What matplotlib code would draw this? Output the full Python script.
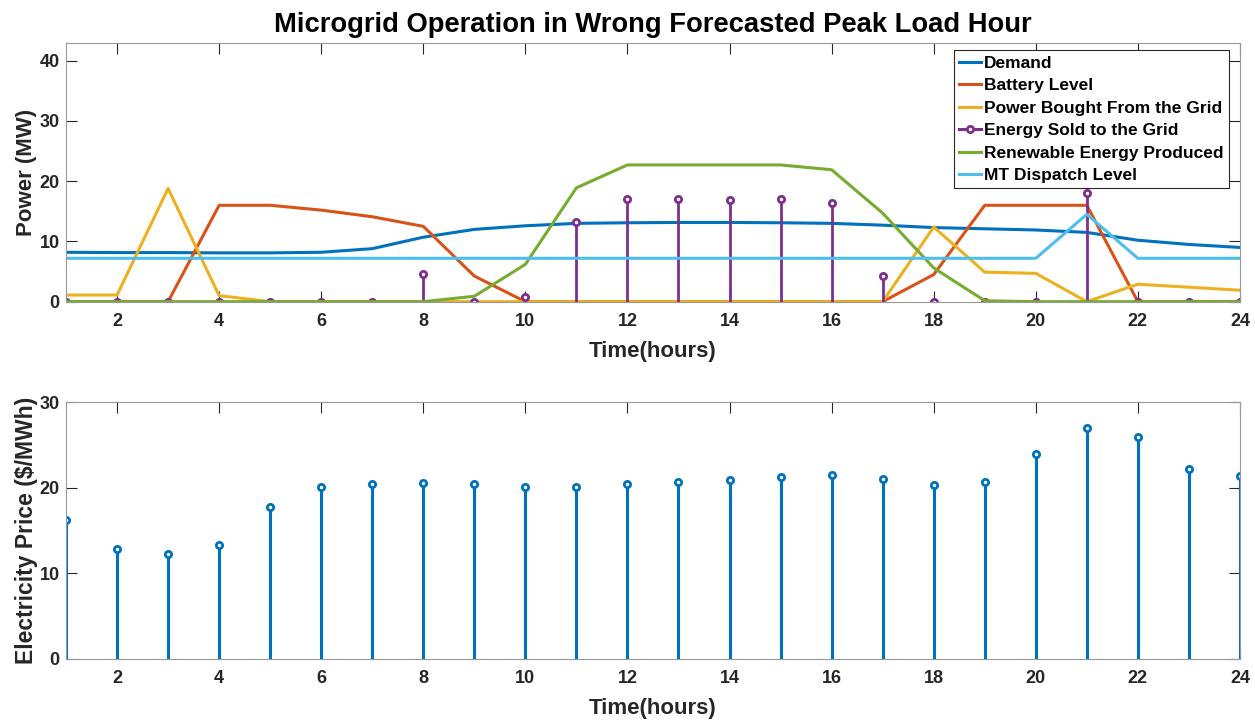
import matplotlib
matplotlib.use("Agg")
from matplotlib import pyplot as plt
from matplotlib.lines import Line2D
from matplotlib.legend_handler import HandlerLine2D
import numpy as np

plt.rcParams['font.family'] = ['Liberation Sans', 'DejaVu Sans']
plt.rcParams['font.weight'] = 'bold'

hours = list(range(1, 25))

demand = [8.2, 8.15, 8.15, 8.1, 8.1, 8.2, 8.8, 10.7, 12.0, 12.6, 13.0, 13.1,
          13.15, 13.15, 13.1, 13.0, 12.7, 12.3, 12.1, 11.9, 11.5, 10.2, 9.5, 9.0]
battery = [0, 0, 0, 16.0, 16.0, 15.2, 14.1, 12.5, 4.25, 0, 0, 0,
           0, 0, 0, 0, 0, 4.5, 16.0, 16.0, 16.0, 0, 0, 0]
bought = [1.1, 1.1, 18.8, 1.0, 0, 0, 0, 0, 0, 0, 0, 0,
          0, 0, 0, 0, 0, 12.4, 4.9, 4.7, 0, 2.9, 2.4, 1.9]
sold = [0, 0, 0, 0, 0, 0, 0, 4.6, 0, 0.8, 13.2, 17.0,
        17.0, 16.8, 17.0, 16.3, 4.25, 0, 0, 0, 18.1, 0, 0, 0]
renewable = [0, 0, 0, 0, 0, 0, 0, 0, 0.9, 6.2, 18.9, 22.7,
             22.7, 22.7, 22.7, 21.9, 14.7, 5.6, 0.15, 0, 0, 0, 0, 0]
mt_dispatch = [7.2] * 20 + [14.5, 7.2, 7.2, 7.2]
price = [16.2, 12.9, 12.3, 13.3, 17.8, 20.1, 20.4, 20.6, 20.5, 20.1, 20.1, 20.5,
         20.7, 20.9, 21.3, 21.5, 21.0, 20.3, 20.7, 24.0, 27.0, 25.9, 22.2, 21.4]

C_BLUE = '#0072BD'
C_ORANGE = '#D95319'
C_YELLOW = '#EDB120'
C_PURPLE = '#7E2F8E'
C_GREEN = '#77AC30'
C_CYAN = '#4DBEEE'


class HandlerEndMarker(HandlerLine2D):
    # marker at the right end of the legend line, like MATLAB stem legends
    def get_xdata(self, legend, xdescent, ydescent, width, height, fontsize):
        xdata = np.array([-xdescent, -xdescent + width])
        return xdata, np.array([-xdescent + width - 3])


fig = plt.figure(figsize=(12.55, 7.21), dpi=100)
ax1 = fig.add_axes([0.0526, 0.5816, 0.9354, 0.3584])
ax2 = fig.add_axes([0.0526, 0.086, 0.9354, 0.356])


def style_axes(ax):
    for s in ax.spines.values():
        s.set_color('#999999')
        s.set_linewidth(0.8)
    ax.tick_params(direction='in', length=8, width=0.8, color='#262626',
                   top=True, right=True, labelsize=13, labelcolor='#262626')
    ax.tick_params(axis='x', pad=8)
    ax.tick_params(axis='y', pad=4.5)
    for lab in ax.get_xticklabels() + ax.get_yticklabels():
        lab.set_fontweight('bold')
    ax.set_xlim(1, 24)
    ax.set_xticks(range(2, 25, 2))
    ax.set_xlabel('Time(hours)', fontsize=16, fontweight='bold', color='#262626',
                  labelpad=8)


lw = 2.2
ax1.plot(hours, demand, color=C_BLUE, lw=lw)
ax1.plot(hours, battery, color=C_ORANGE, lw=lw)
ax1.plot(hours, bought, color=C_YELLOW, lw=lw)
st = ax1.stem(hours, sold, basefmt=' ')
plt.setp(st.stemlines, color=C_PURPLE, linewidth=2)
plt.setp(st.markerline, color=C_PURPLE, marker='o', markersize=4.5,
         markerfacecolor='white', markeredgewidth=2)
ax1.plot(hours, renewable, color=C_GREEN, lw=lw)
ax1.plot(hours, mt_dispatch, color=C_CYAN, lw=lw)
ax1.set_ylim(0, 42.9)
ax1.set_yticks([0, 10, 20, 30, 40])
ax1.set_ylabel('Power (MW)', fontsize=16, fontweight='bold', color='#262626', labelpad=2)
ax1.set_title('Microgrid Operation in Wrong Forecasted Peak Load Hour',
              fontsize=19.7, fontweight='bold', pad=8)
style_axes(ax1)

sold_handle = Line2D([], [], color=C_PURPLE, lw=lw, marker='o', markersize=4.5,
                     markerfacecolor='white', markeredgewidth=2)
handles = [
    Line2D([], [], color=C_BLUE, lw=lw),
    Line2D([], [], color=C_ORANGE, lw=lw),
    Line2D([], [], color=C_YELLOW, lw=lw),
    sold_handle,
    Line2D([], [], color=C_GREEN, lw=lw),
    Line2D([], [], color=C_CYAN, lw=lw),
]
labels = ['Demand', 'Battery Level', 'Power Bought From the Grid',
          'Energy Sold to the Grid', 'Renewable Energy Produced', 'MT Dispatch Level']
leg = ax1.legend(handles, labels, loc='upper right', bbox_to_anchor=(0.9905, 0.972),
                 prop={'size': 12.5, 'weight': 'bold'}, handlelength=1.3,
                 handletextpad=0.15, labelspacing=0.42, borderpad=0.3,
                 borderaxespad=0, fancybox=False, framealpha=1,
                 handler_map={sold_handle: HandlerEndMarker()})
leg.get_frame().set_edgecolor('#262626')
leg.get_frame().set_linewidth(0.8)

st2 = ax2.stem(hours, price, basefmt=' ')
plt.setp(st2.stemlines, color=C_BLUE, linewidth=2.2)
plt.setp(st2.markerline, color=C_BLUE, marker='o', markersize=4.5,
         markerfacecolor='white', markeredgewidth=2)
ax2.set_ylim(0, 30)
ax2.set_yticks([0, 10, 20, 30])
ax2.set_ylabel('Electricity Price ($/MWh)', fontsize=16.5, fontweight='bold',
               color='#262626', labelpad=1)
style_axes(ax2)

fig.savefig('out.png', dpi=100)
